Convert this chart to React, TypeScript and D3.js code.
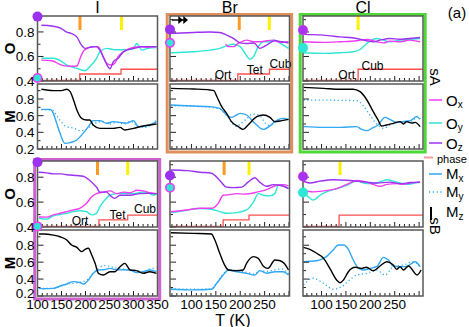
import React from "react";
import * as d3 from "d3";

type Pt = [number, number];

const columnNames = ["I", "Br", "Cl"];
const rowNames = ["sA", "sB"];
const xDomains: [number, number][] = [[100, 350], [56, 301], [62, 308]];
const xTickLabels: number[][] = [[100, 150, 200, 250, 300, 350], [100, 150, 200, 250], [100, 150, 200, 250]];
const oDomain: [number, number] = [0.4, 0.93];
const mDomain: [number, number] = [0.2, 0.98];
const oTickLabels = [0.4, 0.6, 0.8];
const mTickLabels = [0.2, 0.4, 0.6, 0.8];
const phaseNames = ["Ort", "Tet", "Cub"];
const phaseLevels = [0.405, 0.457, 0.496];

// ---- I, sA ----
const iA_Ox: Pt[] = [[108,0.57],[130,0.565],[150,0.53],[170,0.52],[182,0.522],[190,0.598],[196,0.645],[203,0.666],[215,0.68],[226,0.68],[237,0.598],[244,0.545],[254,0.53],[261,0.545],[268,0.598],[279,0.638],[292,0.666],[313,0.68],[330,0.675],[348,0.68]];
const iA_Oy: Pt[] = [[108,0.585],[133,0.585],[150,0.56],[161,0.53],[182,0.503],[199,0.484],[209,0.516],[223,0.585],[230,0.638],[244,0.666],[260,0.655],[280,0.655],[298,0.66],[307,0.706],[317,0.652],[330,0.666],[348,0.672]];
const iA_Oz: Pt[] = [[108,0.855],[130,0.848],[150,0.828],[160,0.80],[170,0.788],[182,0.76],[192,0.69],[199,0.666],[209,0.674],[222,0.68],[230,0.652],[240,0.57],[251,0.50],[258,0.557],[268,0.585],[279,0.638],[300,0.666],[320,0.68],[348,0.68]];
const iA_Mx: Pt[] = [[108,0.676],[126,0.676],[133,0.628],[140,0.508],[147,0.388],[157,0.268],[168,0.276],[182,0.308],[195,0.388],[206,0.468],[216,0.54],[230,0.54],[244,0.508],[258,0.528],[272,0.52],[286,0.51],[300,0.54],[310,0.468],[320,0.47],[334,0.488],[348,0.528]];
const iA_My: Pt[] = [[108,0.67],[130,0.67],[140,0.60],[150,0.52],[160,0.47],[175,0.45],[190,0.42],[200,0.43],[210,0.47],[220,0.51],[235,0.53],[250,0.50],[265,0.52],[280,0.50],[295,0.53],[310,0.47],[325,0.46],[338,0.50],[348,0.55]];
const iA_Mz: Pt[] = [[108,0.917],[133,0.90],[150,0.90],[161,0.917],[168,0.888],[175,0.788],[182,0.668],[192,0.568],[202,0.548],[209,0.548],[216,0.488],[230,0.448],[258,0.448],[272,0.46],[282,0.428],[300,0.448],[320,0.476],[334,0.488],[348,0.50]];
const iA_Phase: Pt[] = [[100,0],[188,1],[274,2],[350,2]];

// ---- Br, sA ----
const brA_Ox: Pt[] = [[170,0.70],[176,0.68],[186,0.68],[196,0.706],[213,0.733],[227,0.72],[240,0.72],[254,0.728],[268,0.733],[283,0.715],[299,0.72]];
const brA_Oy: Pt[] = [[58,0.63],[104,0.638],[138,0.652],[158,0.666],[172,0.687],[186,0.70],[200,0.68],[210,0.625],[220,0.576],[227,0.598],[237,0.68],[247,0.72],[261,0.72],[271,0.733],[285,0.70],[299,0.666]];
const brA_Oz: Pt[] = [[58,0.788],[104,0.796],[138,0.80],[158,0.796],[172,0.774],[186,0.747],[200,0.711],[213,0.706],[228,0.71],[240,0.666],[254,0.693],[271,0.728],[285,0.72],[299,0.711]];
const brA_Mx: Pt[] = [[58,0.728],[104,0.716],[138,0.708],[158,0.688],[172,0.608],[182,0.58],[200,0.628],[213,0.608],[230,0.508],[247,0.436],[261,0.476],[271,0.528],[288,0.568],[299,0.556]];
const brA_My: Pt[] = [[58,0.72],[104,0.712],[138,0.70],[158,0.68],[172,0.60],[182,0.52],[192,0.47],[200,0.50],[213,0.56],[225,0.62],[240,0.60],[250,0.52],[261,0.48],[271,0.52],[288,0.57],[299,0.55]];
const brA_Mz: Pt[] = [[58,0.928],[104,0.92],[138,0.908],[146,0.90],[152,0.83],[162,0.708],[172,0.628],[182,0.528],[196,0.468],[206,0.436],[216,0.488],[234,0.588],[247,0.608],[261,0.58],[271,0.528],[285,0.54],[299,0.556]];
const brA_Phase: Pt[] = [[56,0],[195,1],[260,2],[301,2]];

// ---- Cl, sA ----
const clA_Ox: Pt[] = [[62,0.72],[104,0.715],[138,0.72],[172,0.728],[193,0.739],[213,0.72],[227,0.711],[240,0.725],[262,0.72],[280,0.733],[302,0.72]];
const clA_Oy: Pt[] = [[62,0.63],[104,0.625],[138,0.63],[165,0.638],[179,0.657],[193,0.706],[213,0.747],[227,0.733],[240,0.72],[262,0.733],[282,0.739],[302,0.747]];
const clA_Oz: Pt[] = [[62,0.78],[104,0.774],[138,0.76],[172,0.747],[193,0.728],[206,0.72],[220,0.733],[240,0.747],[260,0.74],[280,0.747],[302,0.755]];
const clA_Mx: Pt[] = [[63,0.468],[104,0.46],[138,0.46],[172,0.468],[182,0.436],[193,0.42],[203,0.448],[216,0.488],[230,0.58],[240,0.556],[254,0.52],[268,0.53],[282,0.54],[295,0.588],[302,0.556]];
const clA_My: Pt[] = [[63,0.788],[172,0.78],[186,0.716],[199,0.608],[213,0.50],[227,0.448],[240,0.488],[261,0.52],[282,0.52],[298,0.59],[302,0.56]];
const clA_Mz: Pt[] = [[63,0.94],[104,0.928],[138,0.917],[165,0.917],[179,0.888],[193,0.788],[206,0.648],[216,0.548],[223,0.476],[233,0.488],[247,0.508],[261,0.528],[268,0.50],[275,0.528],[285,0.51],[292,0.52],[302,0.468]];
const clA_Phase: Pt[] = [[62,0],[175,2],[308,2]];

// ---- I, sB ----
const iB_Ox: Pt[] = [[103,0.48],[119,0.479],[133,0.497],[147,0.51],[161,0.523],[175,0.537],[188,0.55],[202,0.59],[213,0.642],[223,0.668],[237,0.68],[251,0.69],[265,0.668],[279,0.68],[293,0.675],[307,0.695],[320,0.69],[334,0.675],[348,0.668]];
const iB_Oy: Pt[] = [[103,0.47],[119,0.463],[133,0.49],[147,0.50],[161,0.51],[175,0.523],[188,0.53],[202,0.523],[213,0.497],[223,0.51],[230,0.563],[240,0.616],[251,0.655],[265,0.668],[300,0.668],[320,0.68],[334,0.668],[342,0.655],[348,0.668]];
const iB_Oz: Pt[] = [[102,0.84],[119,0.835],[133,0.827],[150,0.827],[161,0.82],[182,0.813],[195,0.808],[209,0.774],[223,0.72],[230,0.68],[244,0.68],[251,0.655],[261,0.63],[272,0.655],[293,0.655],[313,0.668],[330,0.67],[348,0.668]];
const iB_Mx: Pt[] = [[103,0.29],[112,0.285],[133,0.29],[147,0.318],[161,0.342],[175,0.37],[188,0.36],[196,0.342],[206,0.389],[216,0.468],[227,0.507],[237,0.51],[251,0.527],[265,0.507],[279,0.51],[293,0.507],[307,0.476],[320,0.487],[334,0.507],[348,0.487]];
const iB_My: Pt[] = [[103,0.29],[133,0.29],[161,0.34],[188,0.36],[206,0.40],[216,0.47],[227,0.52],[237,0.56],[251,0.55],[265,0.53],[279,0.52],[293,0.50],[307,0.50],[320,0.49],[334,0.52],[348,0.53]];
const iB_Mz: Pt[] = [[103,0.933],[112,0.933],[133,0.92],[147,0.90],[161,0.862],[171,0.803],[182,0.775],[192,0.724],[199,0.752],[206,0.764],[213,0.685],[220,0.586],[227,0.468],[237,0.448],[251,0.487],[261,0.487],[272,0.546],[282,0.586],[293,0.507],[306,0.50],[320,0.468],[334,0.487],[348,0.468]];
const iB_Phase: Pt[] = [[100,0],[228,1],[288,2],[350,2]];

// ---- Br, sB ----
const brB_Ox: Pt[] = [[58,0.523],[90,0.537],[118,0.55],[141,0.55],[155,0.59],[165,0.655],[179,0.66],[193,0.668],[207,0.664],[220,0.668],[234,0.68],[254,0.70],[275,0.735],[288,0.74],[299,0.73]];
const brB_Oy: Pt[] = [[58,0.515],[90,0.535],[118,0.548],[141,0.542],[158,0.523],[172,0.51],[193,0.515],[213,0.537],[227,0.60],[237,0.668],[247,0.655],[261,0.65],[271,0.668],[278,0.735],[288,0.73],[299,0.708]];
const brB_Oz: Pt[] = [[58,0.858],[90,0.853],[118,0.84],[141,0.832],[158,0.774],[172,0.72],[186,0.716],[203,0.72],[216,0.76],[230,0.795],[240,0.76],[254,0.727],[268,0.74],[282,0.735],[299,0.708]];
const brB_Mx: Pt[] = [[58,0.28],[104,0.272],[141,0.28],[152,0.35],[165,0.448],[176,0.507],[193,0.487],[213,0.468],[230,0.448],[240,0.50],[254,0.468],[271,0.487],[288,0.487],[299,0.448]];
const brB_My: Pt[] = [[58,0.285],[104,0.28],[141,0.285],[152,0.36],[165,0.46],[176,0.51],[193,0.50],[213,0.48],[230,0.46],[240,0.50],[254,0.49],[271,0.51],[285,0.52],[299,0.46]];
const brB_Mz: Pt[] = [[58,0.948],[104,0.94],[141,0.933],[148,0.862],[158,0.705],[169,0.555],[176,0.507],[190,0.50],[206,0.507],[213,0.586],[227,0.665],[237,0.645],[247,0.555],[257,0.527],[271,0.625],[280,0.62],[290,0.586],[299,0.507]];
const brB_Phase: Pt[] = [[56,0],[165,1],[218,2],[301,2]];

// ---- Cl, sB ----
const clB_Ox: Pt[] = [[62,0.695],[83,0.682],[104,0.69],[131,0.708],[152,0.742],[172,0.774],[193,0.76],[206,0.742],[220,0.727],[234,0.742],[254,0.748],[268,0.742],[282,0.753],[302,0.76]];
const clB_Oy: Pt[] = [[62,0.682],[73,0.642],[83,0.616],[97,0.655],[110,0.682],[131,0.708],[152,0.735],[172,0.768],[193,0.748],[213,0.753],[234,0.779],[254,0.76],[275,0.742],[292,0.753],[302,0.76]];
const clB_Oz: Pt[] = [[62,0.768],[76,0.753],[97,0.768],[124,0.779],[150,0.775],[172,0.768],[192,0.76],[213,0.753],[240,0.76],[261,0.748],[282,0.757],[302,0.76]];
const clB_Mx: Pt[] = [[62,0.605],[90,0.617],[110,0.665],[124,0.744],[134,0.803],[145,0.803],[155,0.752],[165,0.625],[172,0.555],[186,0.507],[200,0.527],[213,0.546],[227,0.657],[237,0.625],[247,0.555],[261,0.546],[275,0.55],[292,0.605],[302,0.546]];
const clB_My: Pt[] = [[63,0.33],[83,0.41],[104,0.35],[124,0.28],[141,0.31],[158,0.39],[172,0.448],[193,0.468],[213,0.507],[230,0.448],[247,0.546],[268,0.566],[288,0.605],[302,0.546]];
const clB_Mz: Pt[] = [[62,0.775],[76,0.752],[90,0.705],[104,0.646],[117,0.527],[131,0.389],[138,0.357],[145,0.389],[155,0.487],[169,0.539],[182,0.527],[192,0.54],[206,0.499],[220,0.555],[234,0.605],[247,0.566],[254,0.515],[261,0.546],[268,0.507],[278,0.555],[296,0.448],[304,0.507]];
const clB_Phase: Pt[] = [[62,0],[136,2],[308,2]];

// markers: orange / yellow temperatures (null if absent)
const orangeMarks = [[188.5, 198, null], [225, 167, null]];
const yellowMarks = [[275, 259.6, 175], [288, 218, 138]];
// start circles: [purple value, second value]
const startCircles: number[][][] = [
  [[0.925, 0.425], [0.82, 0.711], [0.815, 0.67]],
  [[0.92, 0.405], [0.813, 0.716], [0.805, 0.677]],
];
// phase label placements [name index, T, value]
const phaseLabelsBrA: number[][] = [[0, 164.7, 0.453], [1, 230, 0.4935], [2, 282.5, 0.541]];
const phaseLabelsClA: number[][] = [[0, 151.6, 0.453], [2, 204.5, 0.522]];
const phaseLabelsIB: number[][] = [[0, 188.5, 0.452], [1, 266.7, 0.5], [2, 324, 0.541]];

const C = {
  purple: "#9a32f0",
  magenta: "#f03cf0",
  cyan: "#2ee6d4",
  blue: "#2fa8f5",
  black: "#000",
  phase: "#ff5050",
  orange: "#ff9a22",
  yellow: "#fff000",
};

const FONT = "Liberation Sans, Arial, Helvetica, sans-serif";

const colX: [number, number][] = [[37.5, 157.5], [170, 289.5], [303, 423]];
const rowY = [
  { o: [16, 81], m: [84, 149] },
  { o: [161, 227], m: [230, 296] },
];

type PanelCfg = {
  ox: Pt[]; oy: Pt[]; oz: Pt[]; mx: Pt[]; my: Pt[]; mz: Pt[]; phase: Pt[];
  labels?: number[][];
  border?: string;
};

const panels: PanelCfg[][] = [
  [
    { ox: iA_Ox, oy: iA_Oy, oz: iA_Oz, mx: iA_Mx, my: iA_My, mz: iA_Mz, phase: iA_Phase },
    { ox: brA_Ox, oy: brA_Oy, oz: brA_Oz, mx: brA_Mx, my: brA_My, mz: brA_Mz, phase: brA_Phase, labels: phaseLabelsBrA, border: "#e0905c" },
    { ox: clA_Ox, oy: clA_Oy, oz: clA_Oz, mx: clA_Mx, my: clA_My, mz: clA_Mz, phase: clA_Phase, labels: phaseLabelsClA, border: "#4fd936" },
  ],
  [
    { ox: iB_Ox, oy: iB_Oy, oz: iB_Oz, mx: iB_Mx, my: iB_My, mz: iB_Mz, phase: iB_Phase, labels: phaseLabelsIB, border: "#cc62cc" },
    { ox: brB_Ox, oy: brB_Oy, oz: brB_Oz, mx: brB_Mx, my: brB_My, mz: brB_Mz, phase: brB_Phase },
    { ox: clB_Ox, oy: clB_Oy, oz: clB_Oz, mx: clB_Mx, my: clB_My, mz: clB_Mz, phase: clB_Phase },
  ],
];

function Panel({ row, col, cfg }: { row: number; col: number; cfg: PanelCfg }) {
  const [x0, x1] = colX[col];
  const { o, m } = rowY[row];
  const x = d3.scaleLinear().domain(xDomains[col]).range([x0, x1]);
  const yO = d3.scaleLinear().domain(oDomain).range([o[1], o[0]]);
  const yM = d3.scaleLinear().domain(mDomain).range([m[1], m[0]]);
  const lineO = d3.line<Pt>().x((d) => x(d[0])).y((d) => yO(d[1])).curve(d3.curveMonotoneX);
  const lineM = d3.line<Pt>().x((d) => x(d[0])).y((d) => yM(d[1])).curve(d3.curveMonotoneX);
  const linePhase = d3.line<Pt>().x((d) => x(d[0])).y((d) => yO(phaseLevels[d[1]])).curve(d3.curveStepAfter);
  const xt = d3.range(Math.ceil(xDomains[col][0] / 10) * 10, xDomains[col][1] + 0.01, 10);
  const oT = d3.range(4, 10).map((v) => v / 10);
  const mT = d3.range(2, 10).map((v) => v / 10);
  const idO = `clipO-${row}-${col}`;
  const idM = `clipM-${row}-${col}`;
  const orange = orangeMarks[row][col];
  const yellow = yellowMarks[row][col];
  const [pv, sv] = startCircles[row][col];
  const frame = "#585858";

  return (
    <g>
      {cfg.border && (
        <rect x={x0 - 2.8} y={o[0] - 1.5} width={x1 - x0 + 5} height={m[1] - o[0] + 4.5}
          fill="none" stroke={cfg.border} strokeWidth={3} />
      )}
      <defs>
        <clipPath id={idO}><rect x={x0} y={o[0]} width={x1 - x0} height={o[1] - o[0]} /></clipPath>
        <clipPath id={idM}><rect x={x0} y={m[0]} width={x1 - x0} height={m[1] - m[0]} /></clipPath>
      </defs>
      <rect x={x0} y={o[0]} width={x1 - x0} height={o[1] - o[0]} fill="#fff" />
      <rect x={x0} y={m[0]} width={x1 - x0} height={m[1] - m[0]} fill="#fff" />
      <g clipPath={`url(#${idO})`}>
        <path d={linePhase(cfg.phase) || ""} fill="none" stroke={C.phase} strokeWidth={1.3} />
        <path d={lineO(cfg.oy) || ""} fill="none" stroke={C.cyan} strokeWidth={1.4} />
        <path d={lineO(cfg.ox) || ""} fill="none" stroke={C.magenta} strokeWidth={1.4} />
        <path d={lineO(cfg.oz) || ""} fill="none" stroke={C.purple} strokeWidth={1.4} />
      </g>
      {orange != null && (
        <line x1={x(orange)} x2={x(orange)} y1={o[0]} y2={o[0] + 14} stroke={C.orange} strokeWidth={3} />
      )}
      {yellow != null && (
        <line x1={x(yellow)} x2={x(yellow)} y1={o[0]} y2={o[0] + 14} stroke={C.yellow} strokeWidth={3} />
      )}
      {cfg.labels && cfg.labels.map((l, i) => (
        <text key={i} x={x(l[1])} y={yO(l[2]) + 4} textAnchor="middle" fontSize={12} fontFamily={FONT}>
          {phaseNames[l[0]]}
        </text>
      ))}
      <g clipPath={`url(#${idM})`}>
        <path d={lineM(cfg.my) || ""} fill="none" stroke={C.blue} strokeWidth={1.3} strokeDasharray="1.2,2.6" />
        <path d={lineM(cfg.mx) || ""} fill="none" stroke={C.blue} strokeWidth={1.4} />
        <path d={lineM(cfg.mz) || ""} fill="none" stroke={C.black} strokeWidth={1.4} />
      </g>
      {xt.map((t) => {
        const len = t % 50 === 0 ? 5 : 3;
        return (
          <g key={`xt${t}`} stroke="#222" strokeWidth={1}>
            <line x1={x(t)} x2={x(t)} y1={o[1]} y2={o[1] - len} />
            <line x1={x(t)} x2={x(t)} y1={m[1]} y2={m[1] - len} />
          </g>
        );
      })}
      {oT.filter((v) => v <= oDomain[1]).map((v) => (
        <line key={`oy${v}`} x1={x0} x2={x0 + (Math.round(v * 10) % 2 === 0 ? 6 : 3)} y1={yO(v)} y2={yO(v)} stroke="#222" strokeWidth={1} />
      ))}
      {mT.filter((v) => v <= mDomain[1]).map((v) => (
        <line key={`my${v}`} x1={x0} x2={x0 + (Math.round(v * 10) % 2 === 0 ? 6 : 3)} y1={yM(v)} y2={yM(v)} stroke="#222" strokeWidth={1} />
      ))}
      <rect x={x0} y={o[0]} width={x1 - x0} height={o[1] - o[0]} fill="none" stroke={frame} strokeWidth={1.5} />
      <rect x={x0} y={m[0]} width={x1 - x0} height={m[1] - m[0]} fill="none" stroke={frame} strokeWidth={1.5} />
      {col === 2 ? (
        <g>
          <circle cx={x0} cy={yO(pv)} r={5} fill={C.magenta} />
          <circle cx={x0} cy={yO(pv)} r={4.5} fill={C.purple} opacity={0.85} />
          <circle cx={x0} cy={yO(sv)} r={5} fill={C.cyan} />
        </g>
      ) : (
        <g>
          <circle cx={x0} cy={yO(pv)} r={5} fill={C.purple} />
          <circle cx={x0} cy={yO(sv)} r={4.2} fill={C.cyan} stroke={C.magenta} strokeWidth={1.6} />
        </g>
      )}
      {row === 0 && col === 1 && (
        <g stroke="#000" strokeWidth={1.4} fill="#000">
          <line x1={x0 + 2} x2={x0 + 15} y1={o[0] + 4} y2={o[0] + 4} />
          <path d={`M${x0 + 9},${o[0] + 1.5} L${x0 + 12},${o[0] + 4} L${x0 + 9},${o[0] + 6.5} Z`} />
          <path d={`M${x0 + 14},${o[0] + 1.5} L${x0 + 17},${o[0] + 4} L${x0 + 14},${o[0] + 6.5} Z`} />
        </g>
      )}
      {col === 0 && oTickLabels.map((v) => (
        <text key={`ol${v}`} x={x0 - 3} y={yO(v) + 5} textAnchor="end" fontSize={13.5} fontFamily={FONT}>{v.toFixed(1)}</text>
      ))}
      {col === 0 && mTickLabels.map((v) => (
        <text key={`ml${v}`} x={x0 - 3} y={yM(v) + (row === 1 && v === 0.2 ? 2 : 5)} textAnchor="end" fontSize={13.5} fontFamily={FONT}>{v.toFixed(1)}</text>
      ))}
      {row === 1 && xTickLabels[col].map((t) => (
        <text key={`xl${t}`} x={x(t)} y={m[1] + 13} textAnchor="middle" fontSize={13.5} fontFamily={FONT}>{t}</text>
      ))}
      {row === 0 && (
        <text x={(x0 + x1) / 2} y={13} textAnchor="middle" fontSize={16} fontFamily={FONT}>{columnNames[col]}</text>
      )}
      {col === 0 && (
        <g fontFamily={FONT} fontWeight="bold" fontSize={15}>
          <text transform={`translate(15,${(o[0] + o[1]) / 2}) rotate(-90)`} textAnchor="middle">O</text>
          <text transform={`translate(15,${(m[0] + m[1]) / 2}) rotate(-90)`} textAnchor="middle">M</text>
        </g>
      )}
      {col === 2 && (
        <text transform={`translate(429.5,${row === 0 ? 77 : 226}) rotate(90)`} textAnchor="middle" fontSize={15} fontFamily={FONT}>
          {rowNames[row]}
        </text>
      )}
    </g>
  );
}

const legendO = [
  { name: "O", sub: "x", color: C.magenta, y: 100 },
  { name: "O", sub: "y", color: C.cyan, y: 123 },
  { name: "O", sub: "z", color: C.purple, y: 143 },
];
const legendM = [
  { name: "M", sub: "x", color: C.blue, y: 174, dash: "" },
  { name: "M", sub: "y", color: C.blue, y: 192, dash: "1.2,2.6" },
];

export default function App() {
  return (
    <svg width={469} height={327} style={{ position: "absolute", left: 0, top: 0, background: "#fff" }} fontFamily={FONT}>
      <rect width={469} height={327} fill="#fff" />
      {panels.map((r, ri) => r.map((cfg, ci) => <Panel key={`${ri}-${ci}`} row={ri} col={ci} cfg={cfg} />))}
      <text x={457} y={18} textAnchor="middle" fontSize={15}>(a)</text>
      {legendO.map((l) => (
        <g key={l.sub + "o"}>
          <line x1={429} x2={442} y1={l.y} y2={l.y} stroke={l.color} strokeWidth={1.5} />
          <text x={446} y={l.y + 5.5} fontSize={15}>{l.name}<tspan fontSize={10} dy={2}>{l.sub}</tspan></text>
        </g>
      ))}
      <line x1={424} x2={433} y1={157.5} y2={157.5} stroke="#f39a9a" strokeWidth={2} />
      <text x={437} y={162.5} fontSize={11}>phase</text>
      {legendM.map((l) => (
        <g key={l.sub + "m"}>
          <line x1={429} x2={442} y1={l.y} y2={l.y} stroke={l.color} strokeWidth={1.5} strokeDasharray={l.dash || undefined} />
          <text x={446} y={l.y + 5} fontSize={15}>{l.name}<tspan fontSize={10} dy={3}>{l.sub}</tspan></text>
        </g>
      ))}
      <line x1={431} x2={431} y1={207} y2={220} stroke="#000" strokeWidth={2} />
      <text x={446} y={217} fontSize={15}>M<tspan fontSize={10} dy={3}>z</tspan></text>
      <text x={233} y={325.5} textAnchor="middle" fontSize={16}>T (K)</text>
    </svg>
  );
}
